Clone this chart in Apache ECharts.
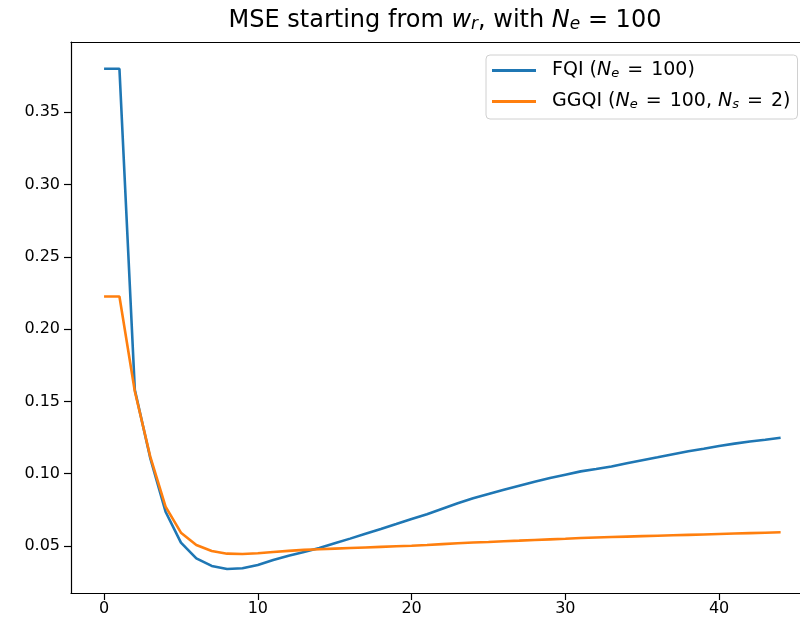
<!DOCTYPE html>
<html lang="en">
<head>
    <meta charset="utf-8">
    <title>MSE starting from w_r</title>
    <script src="https://cdn.jsdelivr.net/npm/echarts@6/dist/echarts.min.js"></script>
    <style>
        html, body { margin: 0; padding: 0; background: #fff; }
        #main { width: 800px; height: 630px; }
    </style>
</head>
<body>
    <div id="main"></div>
    <script>
        // iterations 0..44
        var iterations = [];
        for (var k = 0; k <= 44; k++) iterations.push(k);

        var fqi = [0.380, 0.380, 0.158, 0.111, 0.0737, 0.0523, 0.0415, 0.0362, 0.0341, 0.0346,
            0.0369, 0.0403, 0.0433, 0.0458, 0.0486, 0.0519, 0.0551, 0.0585, 0.0618, 0.0652,
            0.0687, 0.0720, 0.0758, 0.0795, 0.0830, 0.0860, 0.0889, 0.0917, 0.0945, 0.0970,
            0.0993, 0.1016, 0.1032, 0.1050, 0.1072, 0.1093, 0.1113, 0.1134, 0.1155, 0.1173,
            0.1192, 0.1208, 0.1222, 0.1235, 0.1249];

        var ggqi = [0.2225, 0.2225, 0.157, 0.112, 0.0772, 0.0592, 0.0507, 0.0465, 0.0447, 0.0445,
            0.0450, 0.0458, 0.0466, 0.0473, 0.0478, 0.0482, 0.0486, 0.0490, 0.0494, 0.0498,
            0.0502, 0.0507, 0.0513, 0.0519, 0.0524, 0.0528, 0.0533, 0.0537, 0.0542, 0.0546,
            0.0550, 0.0555, 0.0559, 0.0562, 0.0565, 0.0568, 0.0571, 0.0574, 0.0577, 0.0580,
            0.0583, 0.0586, 0.0589, 0.0592, 0.0595];

        var xTicks = [0, 10, 20, 30, 40];
        var yTicks = [0.05, 0.10, 0.15, 0.20, 0.25, 0.30, 0.35];

        function pairs(ys) {
            return iterations.map(function (x, i) { return [x, ys[i]]; });
        }

        var font = 'DejaVu Sans';
        function richSet(size, eqPad) {
            return {
                n: { fontFamily: font, fontSize: size, fontWeight: 'normal', color: '#000' },
                eq: { fontFamily: font, fontSize: size, fontWeight: 'normal', color: '#000', padding: [0, eqPad, 0, eqPad] },
                i: { fontFamily: font, fontSize: size, fontWeight: 'normal', fontStyle: 'italic', color: '#000' },
                s: {
                    fontFamily: font, fontSize: Math.round(size * 0.7), fontWeight: 'normal', fontStyle: 'italic',
                    color: '#000', verticalAlign: 'bottom', lineHeight: Math.round(size * 0.6)
                }
            };
        }

        var myChart = echarts.init(document.getElementById('main'));
        myChart.setOption({
            animation: false,
            title: {
                text: '{n|MSE starting from }{i|w}{s|r}{n|, with }{i|N}{s|e}{eq| = }{n|100}',
                left: 440,
                top: 4,
                textAlign: 'center',
                textStyle: { fontWeight: 'normal', rich: richSet(24, 0) }
            },
            legend: {
                data: ['FQI', 'GGQI'],
                orient: 'vertical',
                left: 486,
                top: 55,
                padding: [6, 7, 8, 6],
                itemGap: 12,
                itemWidth: 44,
                itemHeight: 3,
                icon: 'rect',
                borderColor: '#d0d0d0',
                borderWidth: 1,
                borderRadius: 4,
                backgroundColor: '#fff',
                formatter: function (name) {
                    if (name === 'FQI') return '{n|FQI (}{i|N}{s|e}{eq| = }{n|100)}';
                    return '{n|GGQI (}{i|N}{s|e}{eq| = }{n|100, }{i|N}{s|s}{eq| = }{n|2)}';
                },
                textStyle: { rich: richSet(19, 2), padding: [0, 0, 0, 11] }
            },
            grid: {
                left: 71,
                right: 0,
                top: 42,
                bottom: 37
            },
            xAxis: [
                {
                    type: 'value',
                    min: -2.15,
                    max: 45.26,
                    splitLine: { show: false },
                    axisLine: { show: true, onZero: false, lineStyle: { color: '#000', width: 1.2 } },
                    axisTick: { show: true, customValues: xTicks, length: 7, lineStyle: { color: '#000', width: 1.2 } },
                    axisLabel: { customValues: xTicks, color: '#000', fontFamily: font, fontSize: 16, margin: 8 }
                },
                {
                    // top spine only
                    type: 'value',
                    position: 'top',
                    min: -2.15,
                    max: 45.26,
                    splitLine: { show: false },
                    axisLine: { show: true, onZero: false, lineStyle: { color: '#000', width: 1.2 } },
                    axisTick: { show: false },
                    axisLabel: { show: false }
                }
            ],
            yAxis: {
                type: 'value',
                min: 0.0175,
                max: 0.3985,
                splitLine: { show: false },
                axisLine: { show: true, onZero: false, lineStyle: { color: '#000', width: 1.2 } },
                axisTick: { show: true, customValues: yTicks, length: 7, lineStyle: { color: '#000', width: 1.2 } },
                axisLabel: {
                    customValues: yTicks, color: '#000', fontFamily: font, fontSize: 16, margin: 11,
                    formatter: function (v) { return v.toFixed(2); }
                }
            },
            series: [
                {
                    name: 'FQI',
                    type: 'line',
                    data: pairs(fqi),
                    symbol: 'none',
                    color: '#1f77b4',
                    lineStyle: { color: '#1f77b4', width: 2.6 }
                },
                {
                    name: 'GGQI',
                    type: 'line',
                    data: pairs(ggqi),
                    symbol: 'none',
                    color: '#ff7f0e',
                    lineStyle: { color: '#ff7f0e', width: 2.6 }
                }
            ]
        });
        window.onresize = myChart.resize;
    </script>
</body>
</html>
